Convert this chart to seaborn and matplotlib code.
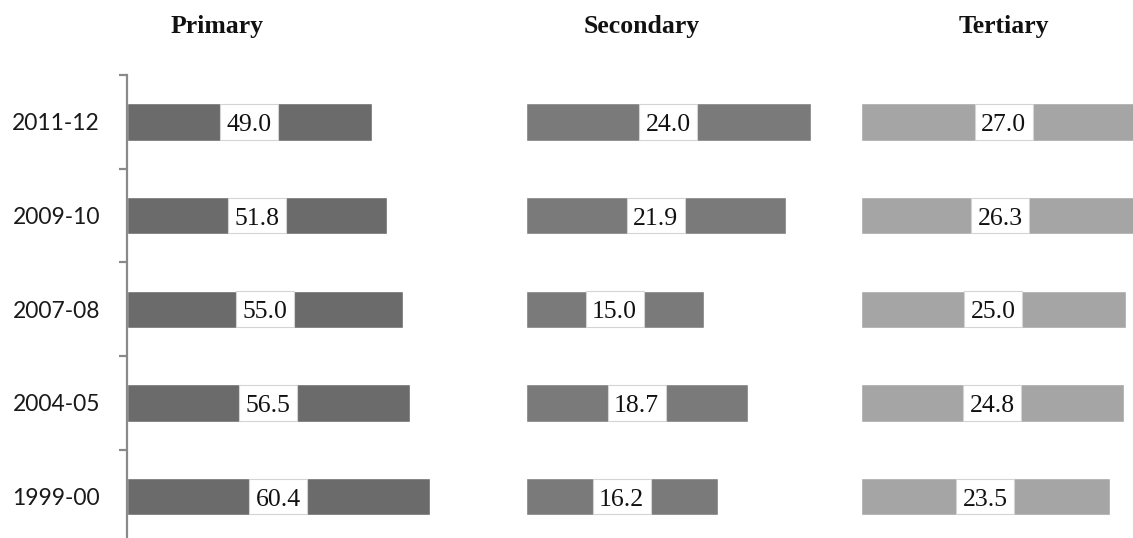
import matplotlib
matplotlib.use("Agg")
import matplotlib.pyplot as plt
import seaborn as sns
import pandas as pd
import numpy as np

# Sector shares (%) by survey year
years = ["2011-12", "2009-10", "2007-08", "2004-05", "1999-00"]
primary = [49.0, 51.8, 55.0, 56.5, 60.4]
secondary = [24.0, 21.9, 15.0, 18.7, 16.2]
tertiary = [27.0, 26.3, 25.0, 24.8, 23.5]
sectors = ["Primary", "Secondary", "Tertiary"]

sns.set_theme(style="white")
plt.rcParams["font.family"] = ["Liberation Serif", "DejaVu Serif"]

W, H, DPI = 1133, 538, 100
fig = plt.figure(figsize=(W / DPI, H / DPI), dpi=DPI)

# panel layout in pixels: (left, width, pixels per unit)
panels = [
    (126.5, 340.0, 5.02, "#6b6b6b", primary),
    (525.5, 300.0, 11.875, "#7a7a7a", secondary),
    (860.7, 300.0, 10.6, "#a5a5a5", tertiary),
]
title_x = [217.5, 642, 1004]

top_px, step_px = 75.0, 93.7
bottom_px = top_px + step_px * len(years)
box_px = 58.0
digit_half = 9.0 / step_px  # half digit height, in category units

for i, (left, width, ppu, color, vals) in enumerate(panels):
    ax = fig.add_axes([left / W, 1 - bottom_px / H, width / W, (bottom_px - top_px) / H])
    df = pd.DataFrame({"year": years, "share": vals})
    sns.barplot(data=df, x="share", y="year", orient="h", color=color,
                width=0.4, saturation=1, ax=ax, order=years)
    ax.set_xlim(0, width / ppu)
    ax.set_ylim(len(years) - 0.5, -0.5)

    # white value boxes centred on each bar
    box_w = box_px / ppu
    lefts = [v / 2 - box_w / 2 for v in vals]
    ax.barh(range(len(years)), [box_w] * len(years), left=lefts, height=0.38,
            color="white", edgecolor="#d4d4d4", linewidth=0.8, zorder=3)
    for j, v in enumerate(vals):
        ax.text(v / 2, j + digit_half, f"{v:.1f}", ha="center", va="baseline",
                fontsize=18.5, color="#111111", zorder=4,
                family=["Liberation Serif"])

    ax.set_xlabel("")
    ax.set_ylabel("")
    ax.set_xticks([])
    for s in ["top", "right", "bottom"]:
        ax.spines[s].set_visible(False)
    if i == 0:
        ax.spines["left"].set_color("#8a8a8a")
        ax.spines["left"].set_linewidth(1.6)
        ax.set_yticks(range(len(years)))
        ax.set_yticklabels(years, family=["Lato", "DejaVu Sans"], fontsize=16.5,
                           color="#1a1a1a")
        ax.tick_params(axis="y", which="major", length=0, pad=19)
        ax.set_yticks(np.arange(-0.5, len(years) + 0.5, 1.0), minor=True)
        ax.tick_params(axis="y", which="minor", length=5.5, width=1.6,
                       color="#8a8a8a", direction="out", left=True)
    else:
        ax.spines["left"].set_visible(False)
        ax.set_yticks([])

    fig.text(title_x[i] / W, 1 - 27 / H, sectors[i], ha="center", va="center",
             fontsize=18.5, fontweight="bold", family=["Liberation Serif"],
             color="#111111")

fig.savefig("out.png", dpi=DPI, facecolor="white")
